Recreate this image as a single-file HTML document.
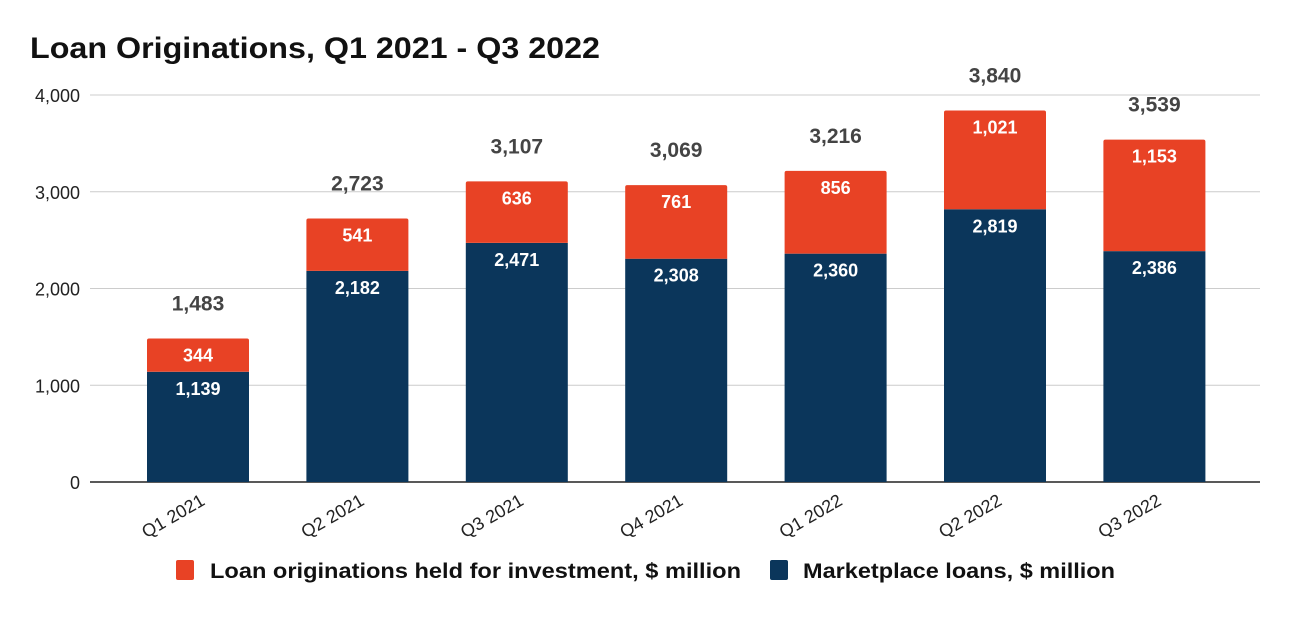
<!DOCTYPE html>
<html><head><meta charset="utf-8"><style>
body{margin:0;background:#fff;font-family:"Liberation Sans",sans-serif}
</style></head><body>
<svg id="c" width="1292" height="613" xmlns="http://www.w3.org/2000/svg">
<text x="30" y="58" font-size="30" font-weight="bold" fill="#111" textLength="570" lengthAdjust="spacingAndGlyphs">Loan Originations, Q1 2021 - Q3 2022</text>
<g id="grid"></g><g id="bars"></g>
<g>
<rect x="176" y="560" width="18" height="20" rx="2" fill="#e84225"/>
<text x="210" y="578" font-size="21" font-weight="bold" fill="#111" textLength="531" lengthAdjust="spacingAndGlyphs">Loan originations held for investment, $ million</text>
<rect x="770" y="560" width="18" height="20" rx="2" fill="#0b365b"/>
<text x="803" y="578" font-size="21" font-weight="bold" fill="#111" textLength="312" lengthAdjust="spacingAndGlyphs">Marketplace loans, $ million</text>
</g>
</svg>
<script>
const categories=["Q1 2021","Q2 2021","Q3 2021","Q4 2021","Q1 2022","Q2 2022","Q3 2022"];
const marketplace=[1139,2182,2471,2308,2360,2819,2386];
const heldForInvestment=[344,541,636,761,856,1021,1153];
const yTicks=[0,1000,2000,3000,4000];
const NS="http://www.w3.org/2000/svg";
const y0=482,yTop=95,yMax=4000;
const y=v=>y0-(v/yMax)*(y0-yTop);
const x=i=>198+i*159.4;
const bw=102;
const fmt=v=>v.toLocaleString("en-US");
function mk(t,a,p,txt){const e=document.createElementNS(NS,t);for(const k in a)e.setAttribute(k,a[k]);if(txt!==undefined)e.textContent=txt;p.appendChild(e);return e;}
const grid=document.getElementById("grid"),bars=document.getElementById("bars");
yTicks.forEach(t=>{
 const l=mk("line",{x1:90,x2:1260,y1:y(t),y2:y(t),stroke:t===0?"#222":"#ccc","stroke-width":t===0?1.5:1},grid);
 
 
 const tx=mk("text",{x:80,y:y(t)+7,"text-anchor":"end","font-size":18,fill:"#222"},grid,fmt(t));
 
 
});
categories.forEach((c,i)=>{
 const m=marketplace[i],h=heldForInvestment[i],tot=m+h,cx=x(i);
 const b1=mk("rect",{x:cx-bw/2,y:y(m),width:bw,height:y0-y(m),fill:"#0b365b"},bars);
 
 
 const b2=mk("path",{d:`M${cx-bw/2},${y(m)}V${y(tot)+2}q0,-2 2,-2H${cx+bw/2-2}q2,0 2,2V${y(m)}Z`,fill:"#e84225"},bars);
 
 
 const l1=mk("text",{x:cx,y:y(m)+23,"text-anchor":"middle","font-size":18,"font-weight":"bold",fill:"#fff"},bars,fmt(m));
 
 
 const l2=mk("text",{x:cx,y:y(tot)+23,"text-anchor":"middle","font-size":18,"font-weight":"bold",fill:"#fff"},bars,fmt(h));
 
 
 const l3=mk("text",{x:cx,y:y(tot)-28,"text-anchor":"middle","font-size":21,"font-weight":"bold",fill:"#444"},bars,fmt(tot));
 
 
 const xl=mk("text",{x:cx+8,y:504,"text-anchor":"end","font-size":18,fill:"#222",transform:`rotate(-30 ${cx+8} 504)`},bars,c);
 
 
});
</script>
</body></html>
